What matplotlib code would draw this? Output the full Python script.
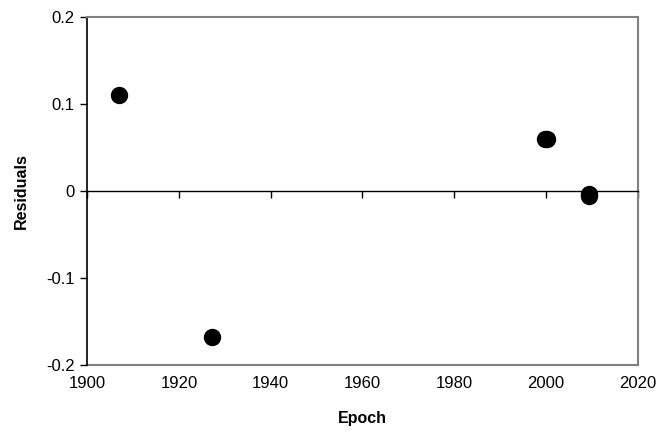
import matplotlib.pyplot as plt

plt.rcParams['font.family'] = ['Liberation Sans', 'DejaVu Sans']

# residuals per epoch
epochs = [1907.0, 1927.3, 1999.8, 2000.1, 2009.4, 2009.4]
residuals = [0.110, -0.168, 0.060, 0.060, -0.003, -0.0055]

x_ticks = [1900, 1920, 1940, 1960, 1980, 2000, 2020]
y_ticks = [-0.2, -0.1, 0, 0.1, 0.2]
y_tick_labels = ['-0.2', '-0.1', '0', '0.1', '0.2']

fig = plt.figure(figsize=(6.7, 4.33), dpi=100)
ax = fig.add_axes([0.130, 0.157, 0.822, 0.804])

ax.plot(epochs, residuals, 'o', color='black', markersize=11.5, zorder=3)

ax.set_xlim(1900, 2020)
ax.set_ylim(-0.2, 0.2)

# zero line carries the x ticks
ax.spines['bottom'].set_position(('data', 0))
ax.spines['bottom'].set_color('black')
ax.spines['bottom'].set_linewidth(1.0)
ax.set_xticks(x_ticks)
ax.tick_params(axis='x', direction='out', length=5, width=1, labelbottom=False)

ax.spines['left'].set_color('black')
ax.spines['left'].set_linewidth(1.2)
ax.spines['top'].set_color('#808080')
ax.spines['right'].set_color('#808080')
ax.spines['top'].set_linewidth(1.5)
ax.spines['right'].set_linewidth(1.5)

ax.set_yticks(y_ticks)
ax.set_yticklabels(y_tick_labels)
ax.tick_params(axis='y', direction='out', length=5, width=1, labelsize=12, pad=4)

# gray frame bottom with the year labels
sec = ax.secondary_xaxis('bottom')
sec.set_xticks(x_ticks)
sec.spines['bottom'].set_color('#808080')
sec.spines['bottom'].set_linewidth(1.5)
sec.tick_params(axis='x', length=0, labelsize=12, pad=8)
sec.set_xlabel('Epoch', fontsize=11.5, fontweight='bold', labelpad=14)

ax.set_ylabel('Residuals', fontsize=11.5, fontweight='bold', labelpad=12)

plt.savefig('out.png', dpi=100)
